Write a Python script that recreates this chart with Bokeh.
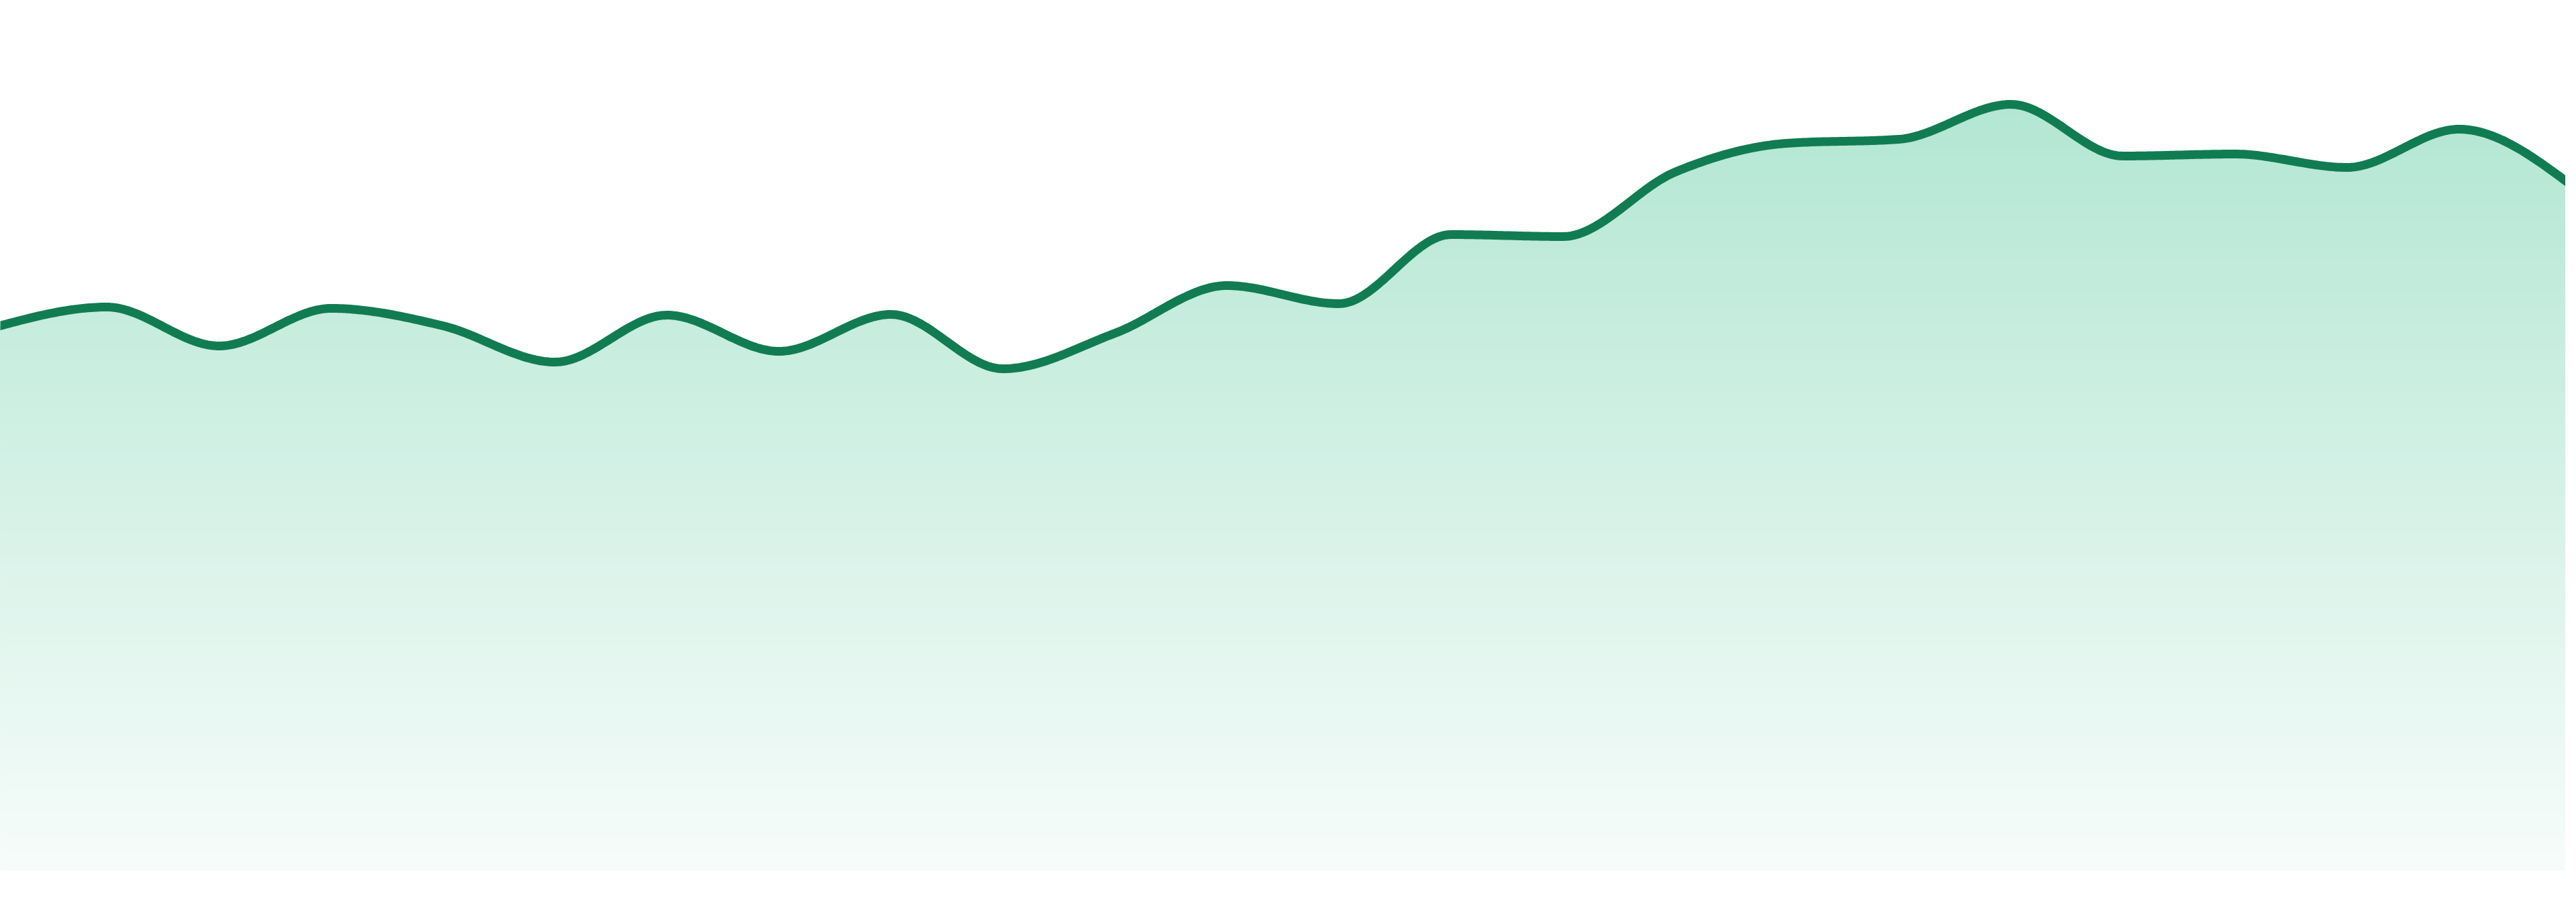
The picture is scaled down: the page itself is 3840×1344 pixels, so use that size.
import numpy as np
from bokeh.plotting import figure
from bokeh.models import Range1d
from bokeh.embed import file_html
from bokeh.resources import INLINE

# ---- data ----
index = list(range(24))
values = [81.0, 84.0, 78.2, 83.8, 81.2, 75.8, 82.8, 77.4, 82.9, 74.8, 80.1, 87.2,
          84.5, 94.8, 94.5, 104.1, 108.4, 109.0, 114.2, 106.5, 106.8, 104.8, 110.5, 102.2]

line_color = "#117c52"
area_rgb = (18, 178, 118)


# ---- monotone-x cubic interpolation (d3 curveMonotoneX) ----
def _sign(v):
    return -1.0 if v < 0 else 1.0


def monotone_curve(xs, ys, samples=40):
    xs = np.asarray(xs, float)
    ys = np.asarray(ys, float)
    n = len(xs)
    t = np.zeros(n)
    for i in range(1, n - 1):
        h0 = xs[i] - xs[i - 1]
        h1 = xs[i + 1] - xs[i]
        s0 = (ys[i] - ys[i - 1]) / h0
        s1 = (ys[i + 1] - ys[i]) / h1
        p = (s0 * h1 + s1 * h0) / (h0 + h1)
        t[i] = (_sign(s0) + _sign(s1)) * min(abs(s0), abs(s1), 0.5 * abs(p))
    h = xs[1] - xs[0]
    t[0] = (3 * (ys[1] - ys[0]) / h - t[1]) / 2
    h = xs[-1] - xs[-2]
    t[-1] = (3 * (ys[-1] - ys[-2]) / h - t[-2]) / 2
    ox, oy = [], []
    u = np.linspace(0, 1, samples, endpoint=False)
    for i in range(n - 1):
        x0, x1 = xs[i], xs[i + 1]
        y0, y1 = ys[i], ys[i + 1]
        dx = (x1 - x0) / 3
        P = [(x0, y0), (x0 + dx, y0 + dx * t[i]), (x1 - dx, y1 - dx * t[i + 1]), (x1, y1)]
        b0 = (1 - u) ** 3
        b1 = 3 * (1 - u) ** 2 * u
        b2 = 3 * (1 - u) * u ** 2
        b3 = u ** 3
        ox.extend(b0 * P[0][0] + b1 * P[1][0] + b2 * P[2][0] + b3 * P[3][0])
        oy.extend(b0 * P[0][1] + b1 * P[1][1] + b2 * P[2][1] + b3 * P[3][1])
    ox.append(xs[-1])
    oy.append(ys[-1])
    return np.array(ox), np.array(oy)


cx, cy = monotone_curve(index, values)

# ---- figure (fits inside the 8px page margin on every side) ----
W, H = 3824, 1328
step_px = 3840 / (len(index) - 1)
x_start = 8 / step_px
x_end = x_start + W / step_px
p = figure(width=W, height=H, output_backend="svg", toolbar_location=None,
           x_range=Range1d(x_start, x_end), y_range=Range1d(-3.1, 129.7),
           min_border=0, x_axis_location=None, y_axis_location=None)
p.grid.visible = False
p.outline_line_color = None
p.background_fill_color = "white"
p.border_fill_color = "white"

# ---- vertical gradient under the curve: stacked areas, lightest first ----
levels = np.arange(0, max(values), 0.8)
for v in levels:
    ypx = 1305 - 10 * (v + 0.4)
    a = 0.30 - (ypx - 250) * 0.00025
    a = min(max(a, 0.03), 0.40)
    r, g, b = (round(255 - a * (255 - c)) for c in area_rgb)
    col = "#%02x%02x%02x" % (r, g, b)
    top = np.maximum(cy, v)
    p.varea(x=cx, y1=np.full(len(cx), v), y2=top, fill_color=col)

# line
p.line(cx, cy, line_color=line_color, line_width=13, line_join="round", line_cap="round")

open("out.html", "w").write(file_html(p, INLINE))
